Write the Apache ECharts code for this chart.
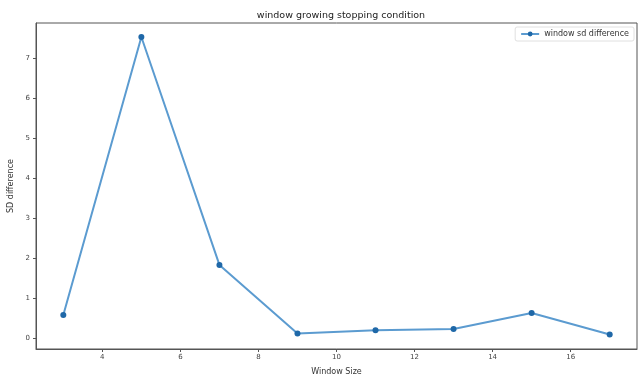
<!DOCTYPE html>
<html><head><meta charset="utf-8">
<script src="https://cdn.jsdelivr.net/npm/echarts@6/dist/echarts.min.js"></script>
<style>html,body{margin:0;padding:0;background:#fff}#c{width:640px;height:377px}</style>
</head><body><div id="c"></div>
<script>
const windowSizes = [3, 5, 7, 9, 11, 13, 15, 17];
const sdDifference = [0.58, 7.52, 1.83, 0.12, 0.20, 0.23, 0.63, 0.09];
const xTicks = [4, 6, 8, 10, 12, 14, 16];
const yTicks = [0, 1, 2, 3, 4, 5, 6, 7];
const seriesName = 'window sd difference';

const chart = echarts.init(document.getElementById('c'));
const font = 'DejaVu Sans';
chart.setOption({
  animation: false,
  backgroundColor: '#fff',
  title: {
    text: 'window growing stopping condition',
    left: 336, top: 6, textAlign: 'center',
    textStyle: {fontFamily: font, fontSize: 9.5, fontWeight: 'normal', color: '#222'}
  },
  legend: {
    data: [seriesName], right: 6, top: 27,
    backgroundColor: '#fff', borderColor: '#e0e0e0', borderWidth: 1, borderRadius: 2,
    padding: [3, 5, 3, 5], itemWidth: 18, itemHeight: 6, itemGap: 6,
    textStyle: {fontFamily: font, fontSize: 8, color: '#333'}
  },
  grid: {left: 36, right: 3, top: 23, bottom: 28, show: true, borderColor: '#555', borderWidth: 1,
         outerBoundsMode: 'none', containLabel: false},
  xAxis: {
    type: 'value', min: 2.3, max: 17.7,
    name: 'Window Size', nameLocation: 'middle', nameGap: 19,
    nameTextStyle: {fontFamily: font, fontSize: 8, color: '#333'},
    axisLine: {show: true, onZero: false, lineStyle: {color: '#555'}},
    axisTick: {show: true, length: 3, customValues: xTicks, lineStyle: {color: '#555'}},
    axisLabel: {customValues: xTicks, fontFamily: font, fontSize: 7, color: '#444', margin: 5},
    splitLine: {show: false}
  },
  yAxis: {
    type: 'value', min: -0.27, max: 7.87,
    name: 'SD difference', nameLocation: 'middle', nameGap: 18,
    nameTextStyle: {fontFamily: font, fontSize: 8, color: '#333'},
    axisLine: {show: true, onZero: false, lineStyle: {color: '#555'}},
    axisTick: {show: true, length: 3, customValues: yTicks, lineStyle: {color: '#555'}},
    axisLabel: {customValues: yTicks, fontFamily: font, fontSize: 7, color: '#444', margin: 6},
    splitLine: {show: false}
  },
  series: [{
    name: seriesName, type: 'line',
    data: windowSizes.map((x, i) => [x, sdDifference[i]]),
    symbol: 'circle', symbolSize: 6,
    lineStyle: {color: '#5b9bd0', width: 2},
    itemStyle: {color: '#1f68a8'}
  }]
});
</script></body></html>
